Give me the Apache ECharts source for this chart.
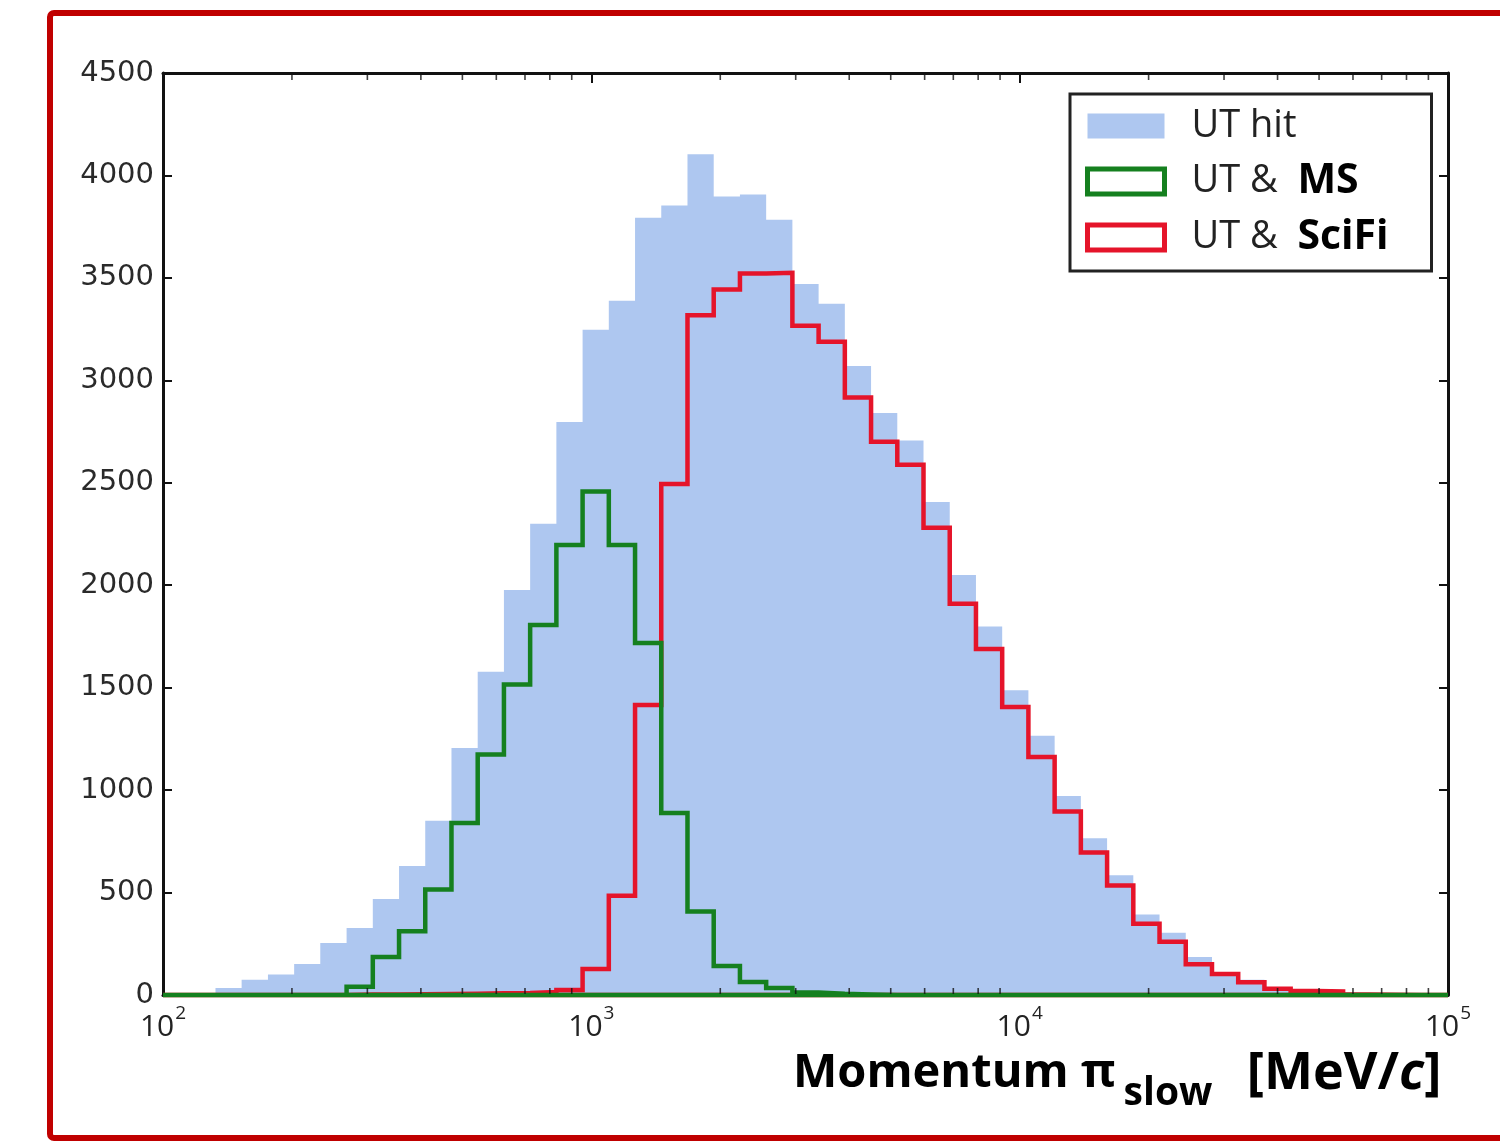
<!DOCTYPE html>
<html>
<head>
<meta charset="utf-8">
<script src="https://cdn.jsdelivr.net/npm/echarts@6/dist/echarts.min.js"></script>
<style>
  html, body { margin: 0; padding: 0; background: #ffffff; }
  #chart { width: 1500px; height: 1141px; }
</style>
</head>
<body>
<div id="chart"></div>
<script>
// Log-spaced bin edges, 10^2 .. 10^5 MeV/c (49 bins)
const binEdges = [
  100, 115.1, 132.6, 152.6, 175.8, 202.4, 232.9, 268.3, 308.9, 355.7,
  409.5, 471.5, 542.9, 625.1, 719.7, 828.7, 954.1, 1098.5, 1264.9, 1456.3,
  1676.8, 1930.7, 2223.0, 2559.5, 2947.0, 3393.2, 3906.9, 4498.4, 5179.5, 5963.6,
  6866.5, 7906, 9103, 10481, 12068, 13895, 15999, 18421, 21210, 24421,
  28119, 32375, 37276, 42919, 49417, 56899, 65512, 75431, 86851, 100000
];

// Entries per bin: tracks with a UT hit
const utHit = [
  0, 10, 34, 75, 100, 151, 254, 327, 468, 630,
  851, 1205, 1578, 1977, 2300, 2797, 3247, 3389, 3794, 3853,
  4104, 3897, 3907, 3784, 3470, 3374, 3070, 2840, 2706, 2406,
  2050, 1798, 1488, 1265, 971, 765, 585, 393, 304, 185,
  112, 75, 35, 22, 14, 8, 5, 3, 2
];

// UT hit together with muon station hits
const utMS = [
  0, 0, 0, 0, 0, 0, 0, 40, 185, 311,
  515, 840, 1174, 1516, 1806, 2196, 2458, 2196, 1718, 888,
  408, 141, 63, 34, 12, 6, 3, 0, 0, 0,
  0, 0, 0, 0, 0, 0, 0, 0, 0, 0,
  0, 0, 0, 0, 0, 0, 0, 0, 0
];

// UT hit together with SciFi hits
const utSciFi = [
  0, 0, 0, 0, 0, 0, 0, 2, 3, 4,
  5, 6, 8, 10, 15, 25, 127, 485, 1415, 2494,
  3318, 3443, 3522, 3525, 3266, 3188, 2916, 2700, 2588, 2280,
  1910, 1689, 1406, 1162, 896, 695, 535, 348, 260, 150,
  102, 62, 30, 20, 17, 3, 1, 0, 0
];

// Minor tick positions on the momentum axis
const minorTickValues = [
  200, 300, 400, 500, 600, 700, 800, 900,
  2000, 3000, 4000, 5000, 6000, 7000, 8000, 9000,
  20000, 30000, 40000, 50000, 60000, 70000, 80000, 90000
];

const Y_MAX = 4500;
const COLOR_FILL = '#aec7f0';
const COLOR_MS = '#15801f';
const COLOR_SCIFI = '#e5142a';

// Turn per-bin counts into the outline of a step histogram
function stepOutline(values, closeBaseline) {
  const n = values.length;
  const pts = [[binEdges[0], 0]];
  for (let i = 0; i < n; i++) pts.push([binEdges[i], values[i]]);
  pts.push([binEdges[n], values[n - 1]]);
  pts.push([binEdges[n], 0]);
  if (closeBaseline) pts.push([binEdges[0], 0]);
  return pts;
}

// Short inward tick marks along the bottom and top frame of the plot
function minorTickSeries(yValue, offset) {
  return {
    type: 'scatter',
    silent: true,
    clip: false,
    z: 6,
    symbol: 'rect',
    symbolSize: [1.6, 6],
    symbolOffset: [0, offset],
    itemStyle: { color: '#111' },
    data: minorTickValues.map(function (v) { return [v, yValue]; })
  };
}

const chart = echarts.init(document.getElementById('chart'), null, { renderer: 'canvas' });

const labelFont = 'Open Sans';

chart.setOption({
  animation: false,
  backgroundColor: '#ffffff',
  grid: { left: 163, right: 52, top: 73, bottom: 146 },
  title: {
    left: 788,
    top: 1037,
    text: '{m|Momentum π}{s|slow}{m|  }{u|[MeV/}{i|c}{u|]}',
    textStyle: {
      rich: {
        m: { fontFamily: labelFont, fontWeight: 'bold', fontSize: 47, color: '#000', lineHeight: 64 },
        s: { fontFamily: labelFont, fontWeight: 'bold', fontSize: 39, color: '#000', lineHeight: 40, padding: [40, 10, 0, 8] },
        u: { fontFamily: labelFont, fontWeight: 'bold', fontSize: 52, color: '#000', lineHeight: 64 },
        i: { fontFamily: labelFont, fontWeight: 'bold', fontStyle: 'italic', fontSize: 52, color: '#000', lineHeight: 64 }
      }
    }
  },
  legend: {
    orient: 'vertical',
    left: 1070,
    top: 94,
    padding: [12, 10, 13, 15],
    itemGap: 15,
    itemWidth: 77,
    itemHeight: 25,
    borderColor: '#222',
    borderWidth: 3,
    borderRadius: 0,
    backgroundColor: '#ffffff',
    selectedMode: false,
    data: [
      { name: 'UT hit', icon: 'rect', itemStyle: { color: COLOR_FILL, borderWidth: 0 } },
      { name: 'UT & MS', icon: 'rect', itemStyle: { color: 'rgba(255,255,255,0)', borderColor: COLOR_MS, borderWidth: 5 } },
      { name: 'UT & SciFi', icon: 'rect', itemStyle: { color: 'rgba(255,255,255,0)', borderColor: COLOR_SCIFI, borderWidth: 5 } }
    ],
    formatter: function (name) {
      if (name === 'UT & MS') return 'UT &  {b|MS}';
      if (name === 'UT & SciFi') return 'UT &  {b|SciFi}';
      return name;
    },
    textStyle: {
      fontFamily: labelFont,
      fontSize: 38,
      color: '#222',
      lineHeight: 40,
      width: 230,
      overflow: 'none',
      padding: [0, 0, 0, 22],
      rich: {
        b: { fontFamily: labelFont, fontSize: 41, fontWeight: 'bold', color: '#000', lineHeight: 40 }
      }
    }
  },
  xAxis: [
    {
      type: 'log',
      logBase: 10,
      min: 100,
      max: 100000,
      position: 'bottom',
      axisLine: { onZero: false, lineStyle: { color: '#111', width: 3 } },
      axisTick: { inside: true, length: 10, lineStyle: { color: '#111', width: 2 } },
      splitLine: { show: false },
      axisLabel: {
        margin: 15,
        formatter: function (v) {
          const e = Math.round(Math.log10(v));
          return '{b|10}{p|' + e + '}';
        },
        rich: {
          b: { fontFamily: labelFont, fontSize: 30, color: '#222', lineHeight: 34 },
          p: { fontFamily: labelFont, fontSize: 19, color: '#222', lineHeight: 20, padding: [0, 0, 26, 1] }
        }
      }
    },
    {
      type: 'log',
      logBase: 10,
      min: 100,
      max: 100000,
      position: 'top',
      axisLine: { onZero: false, lineStyle: { color: '#111', width: 3 } },
      axisTick: { inside: true, length: 10, lineStyle: { color: '#111', width: 2 } },
      splitLine: { show: false },
      axisLabel: { show: false }
    }
  ],
  yAxis: [
    {
      type: 'value',
      min: 0,
      max: Y_MAX,
      interval: 500,
      position: 'left',
      axisLine: { show: true, lineStyle: { color: '#111', width: 3 } },
      axisTick: { show: true, inside: true, length: 9, lineStyle: { color: '#111', width: 2 } },
      splitLine: { show: false },
      axisLabel: {
        margin: 9,
        fontFamily: 'DejaVu Sans',
        fontSize: 29,
        color: '#2a2a2a',
        formatter: function (v) { return String(v); }
      }
    },
    {
      type: 'value',
      min: 0,
      max: Y_MAX,
      interval: 500,
      position: 'right',
      axisLine: { show: true, lineStyle: { color: '#111', width: 3 } },
      axisTick: { show: true, inside: true, length: 9, lineStyle: { color: '#111', width: 2 } },
      splitLine: { show: false },
      axisLabel: { show: false }
    }
  ],
  series: [
    {
      name: 'UT hit',
      type: 'line',
      step: 'end',
      showSymbol: false,
      symbol: 'none',
      silent: true,
      z: 2,
      itemStyle: { color: COLOR_FILL },
      lineStyle: { width: 0, color: COLOR_FILL },
      areaStyle: { color: COLOR_FILL, opacity: 1 },
      data: stepOutline(utHit, false)
    },
    {
      name: 'UT & SciFi',
      type: 'line',
      step: 'end',
      showSymbol: false,
      symbol: 'none',
      silent: true,
      clip: false,
      z: 3,
      itemStyle: { color: COLOR_SCIFI },
      lineStyle: { width: 4.5, color: COLOR_SCIFI, join: 'miter' },
      data: stepOutline(utSciFi, true)
    },
    {
      name: 'UT & MS',
      type: 'line',
      step: 'end',
      showSymbol: false,
      symbol: 'none',
      silent: true,
      clip: false,
      z: 4,
      itemStyle: { color: COLOR_MS },
      lineStyle: { width: 4.5, color: COLOR_MS, join: 'miter' },
      data: stepOutline(utMS, true)
    },
    minorTickSeries(0, -4),
    minorTickSeries(Y_MAX, 4)
  ],
  graphic: [
    {
      type: 'rect',
      silent: true,
      z: 100,
      shape: { x: 50, y: 13, width: 1500, height: 1125, r: 4 },
      style: { fill: 'none', stroke: '#c00000', lineWidth: 6 }
    }
  ]
});
</script>
</body>
</html>
